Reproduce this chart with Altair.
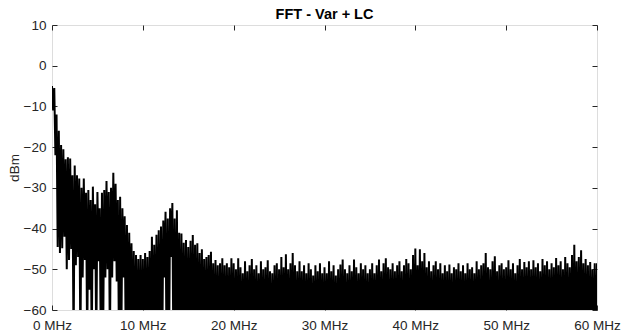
import altair as alt
import pandas as pd

# ---------------- data ----------------
freq_step_mhz = 0.25          # spacing of the local maxima listed below
x_tick_mhz = [0, 10, 20, 30, 40, 50, 60]
y_tick_dbm = [-60, -50, -40, -30, -20, -10, 0, 10]

# local maxima (upper envelope) every 0.25 MHz, 0 .. 59.75 MHz
peaks_0_10 = [-5, -5.5, -12, -16, -19.5, -20.5, -23, -22.5, -22.8, -26.9,
              -24.5, -26.9, -27.7, -30, -27.7, -31.2, -30.5, -33, -29.7, -34,
              -31, -35, -31.2, -30.5, -28.3, -31, -30, -26.3, -29, -33,
              -32.2, -35, -37, -39.1, -41, -43.6, -45.5, -46.5, -47.5, -46.5]
peaks_10_20 = [-47.5, -46, -47, -45.5, -42, -44, -41.5, -40.4, -39.5, -38,
               -35.9, -37.5, -35, -33.7, -37.5, -35.5, -41, -41.2, -43.5, -42.8,
               -44.5, -43, -41.6, -44, -43.6, -46, -45.1, -47.5, -47, -46.5,
               -45.7, -48.5, -47.7, -49, -48.5, -47.3, -49, -48.5, -49.5, -47.3]
peaks_20_60 = [-48.5, -50, -47.3, -49.5, -51, -48, -50.5, -49, -47.5, -50,
               -49, -51, -48, -50, -49.5, -47.8, -50.5, -51, -49, -48.5,
               -50, -47, -49.5, -46.3, -50, -48.5, -46, -49, -50.5, -48,
               -50.5, -49, -51, -48.5, -50, -51.5, -49, -50.5, -48.5, -51,
               -49.5, -51, -48, -50.5, -49, -51.5, -50, -48.8, -47.6, -50,
               -51, -49, -50.5, -47.6, -49.5, -51, -48.5, -50, -49, -51,
               -50, -48.5, -51, -49, -47.6, -50.5, -48.5, -47.3, -49.5, -50,
               -48.5, -50.5, -49, -48, -50.5, -49, -47.5, -48.5, -50, -46.5,
               -44.9, -49, -45.1, -48, -46, -49.5, -48, -50.5, -49, -48,
               -50, -48.5, -51, -49, -50.5, -48.8, -51, -49.5, -50, -48.5,
               -50.5, -49, -51, -48.5, -50, -49.5, -51, -48, -50, -49,
               -48.5, -46, -49.5, -50, -48, -46.8, -50.5, -49, -48.5, -50,
               -49.5, -47.8, -50, -48.5, -51, -49, -47.5, -50, -48.2, -49.5,
               -48, -50, -47.8, -49.5, -48.5, -50.5, -47.5, -49, -48, -50,
               -48.5, -49.5, -47.2, -49, -48, -50, -47, -48.5, -49.5, -46.5,
               -44, -48, -47, -45.3, -48.5, -47.5, -49, -48.2, -50, -48.5]
peak_at_60_mhz = -48.5

# local minima between the maxima (0.125 MHz after each maximum), 0 .. 9 MHz
troughs_0_9 = [-11, -22, -44.5, -46, -44.8, -42, -50, -47.7, -45, -70,
               -49, -47, -70, -52, -47.7, -70, -55, -70, -50, -70,
               -48, -70, -70, -52, -50, -70, -52, -48, -53, -70,
               -70, -52, -70, -70, -62, -70]
# beyond 9 MHz the minima fall below the -60 dBm axis floor,
# except a few visible gaps
trough_below_floor = -75
trough_exceptions = {49: -52, 52: -47}

peaks = peaks_0_10 + peaks_10_20 + peaks_20_60

rows = []
for i, p in enumerate(peaks):
    f = i * freq_step_mhz
    rows.append({"f": f, "dbm": p})
    if i < len(troughs_0_9):
        t = troughs_0_9[i]
    else:
        t = trough_exceptions.get(i, trough_below_floor)
    rows.append({"f": f + freq_step_mhz / 2, "dbm": t})
rows.append({"f": 60.0, "dbm": peak_at_60_mhz})
df = pd.DataFrame(rows)

frame_df = pd.DataFrame({"f": [x_tick_mhz[0], x_tick_mhz[-1]],
                         "dbm": [y_tick_dbm[0], y_tick_dbm[-1]]})

# ---------------- chart ----------------
W, H = 545, 285
FONT = "Liberation Sans"
AX = "#262626"

x_scale = alt.Scale(domain=[0, 60], nice=False, zero=False)
y_scale = alt.Scale(domain=[-60, 10], nice=False, zero=False)

line = alt.Chart(df).mark_line(color="black", strokeWidth=2, clip=True).encode(
    x=alt.X("f:Q", scale=x_scale,
            axis=alt.Axis(orient="bottom", values=x_tick_mhz,
                          labelExpr="datum.value + ' MHz'",
                          ticks=False, domain=False, grid=False,
                          labelPadding=8, labelFontSize=13.5, labelFont=FONT,
                          labelColor=AX, title=None, labelFlush=False)),
    y=alt.Y("dbm:Q", scale=y_scale,
            axis=alt.Axis(orient="left", values=y_tick_dbm,
                          ticks=False, domain=False, grid=False,
                          labelPadding=6, labelFontSize=13.5, labelFont=FONT,
                          labelColor=AX, title="dBm", titleFont=FONT,
                          titleFontSize=13.5, titleFontWeight="normal",
                          titleColor=AX, titlePadding=2)),
)

ticks_in_a = alt.Chart(frame_df).mark_point(opacity=0).encode(
    x=alt.X("f:Q", scale=x_scale,
            axis=alt.Axis(orient="top", offset=-H, values=x_tick_mhz,
                          labels=False, domain=False, grid=False,
                          ticks=True, tickSize=5, tickColor=AX, title=None)),
    y=alt.Y("dbm:Q", scale=y_scale,
            axis=alt.Axis(orient="right", offset=-W, values=y_tick_dbm,
                          labels=False, domain=False, grid=False,
                          ticks=True, tickSize=5, tickColor=AX, title=None)),
)

ticks_in_b = alt.Chart(frame_df).mark_point(opacity=0).encode(
    x=alt.X("f:Q", scale=x_scale,
            axis=alt.Axis(orient="bottom", offset=-H, values=x_tick_mhz,
                          labels=False, domain=False, grid=False,
                          ticks=True, tickSize=5, tickColor=AX, title=None)),
    y=alt.Y("dbm:Q", scale=y_scale,
            axis=alt.Axis(orient="left", offset=-W, values=y_tick_dbm,
                          labels=False, domain=False, grid=False,
                          ticks=True, tickSize=5, tickColor=AX, title=None)),
)

chart = (
    alt.layer(line, ticks_in_a, ticks_in_b)
    .resolve_axis(x="independent", y="independent")
    .properties(
        width=W, height=H,
        title=alt.TitleParams("FFT - Var + LC", font=FONT, fontSize=14.5,
                              fontWeight="bold", color="black",
                              anchor="middle", frame="group", offset=-4),
        autosize=alt.AutoSizeParams(type="none"),
        padding={"left": 52, "top": 25, "right": 24, "bottom": 25},
    )
    .configure_view(stroke=AX, strokeWidth=1)
    .configure(background="white")
)

chart.save("out.html", embed_options={"renderer": "svg", "actions": False})
